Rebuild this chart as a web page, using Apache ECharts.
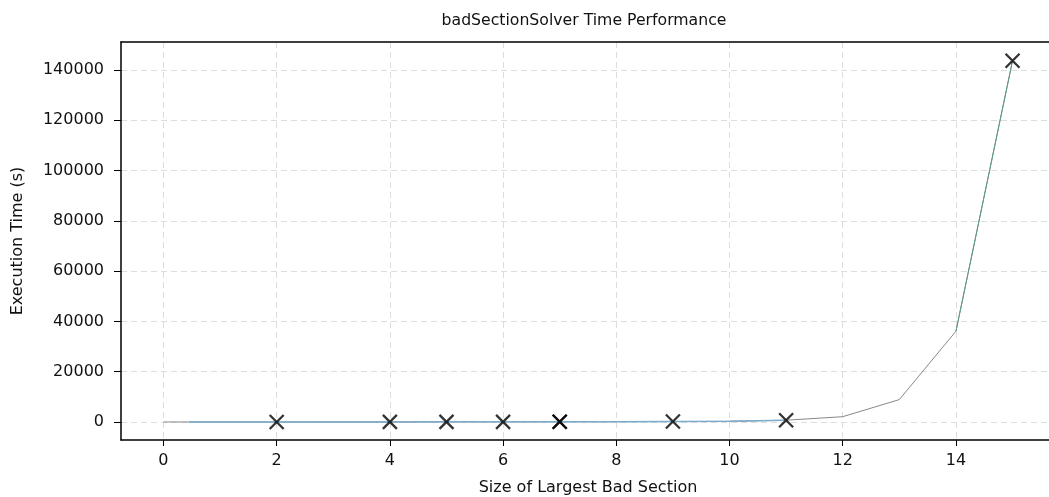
<!DOCTYPE html>
<html><head><meta charset="utf-8">
<script src="https://cdn.jsdelivr.net/npm/echarts@6/dist/echarts.min.js"></script>
<style>html,body{margin:0;padding:0;background:#fff}#c{width:1049px;height:497px}</style>
</head><body><div id="c"></div>
<script>
var sizes = [0,1,2,3,4,5,6,7,8,9,10,11,12,13,14,15];
var times = [1,2,5,10,20,40,60,90,130,180,250,700,2100,8900,36100,143700];
var blueX = [0.45,1,2,3,4,5,6,7,8,9,10,11];
var blueY = [1,2,5,10,20,40,60,90,130,180,250,700];
var tealX = [14,15];
var tealY = [36100,143700];
var markX = [2,4,5,6,7,7,9,11,15];
var markY = [5,20,40,60,90,95,180,700,143700];
var xTicks = [0,2,4,6,8,10,12,14];
var yTicks = [0,20000,40000,60000,80000,100000,120000,140000];

function pairs(a,b){return a.map(function(v,i){return [v,b[i]];});}
var font = "'DejaVu Sans', sans-serif";
var chart = echarts.init(document.getElementById('c'));
var axisLn = {show:true, onZero:false, lineStyle:{color:'#000', width:1.5}};
chart.setOption({
  animation:false,
  title:{text:'badSectionSolver Time Performance', left:579, top:8, textAlign:'center',
    textStyle:{fontFamily:font,fontSize:15.7,fontWeight:'normal',color:'#111'}},
  grid:{left:121, top:42, bottom:57, right:-6, outerBoundsMode:'none', containLabel:false, show:false},
  xAxis:[{type:'value', min:-0.75, max:15.75, interval:2,
    name:'Size of Largest Bad Section', nameLocation:'middle', nameGap:40,
    nameTextStyle:{fontFamily:font,fontSize:16,color:'#111'},
    axisLine:axisLn, axisTick:{show:true, length:6, lineStyle:{color:'#000'}, customValues:xTicks},
    axisLabel:{fontFamily:font,fontSize:16,color:'#111', margin:13, customValues:xTicks},
    splitLine:{show:true, lineStyle:{color:'#ddd', type:[6,4], width:1}, customValues:xTicks}
  },{type:'value', position:'top', min:-0.75, max:15.75, axisLine:axisLn, axisTick:{show:false},
    axisLabel:{show:false}, splitLine:{show:false}}],
  yAxis:{type:'value', min:-7175, max:151150,
    name:'Execution Time (s)', nameLocation:'middle', nameGap:95, nameRotate:90,
    nameTextStyle:{fontFamily:font,fontSize:16,color:'#111'},
    axisLine:axisLn, axisTick:{show:true, length:7, lineStyle:{color:'#000'}, customValues:yTicks},
    axisLabel:{fontFamily:font,fontSize:16,color:'#111', margin:17, customValues:yTicks, formatter:function(v){return String(v);}},
    splitLine:{show:true, lineStyle:{color:'#ddd', type:[6,4], width:1}, customValues:yTicks}
  },
  series:[
    {type:'line', data:pairs(sizes,times), symbol:'none', lineStyle:{color:'#888', width:1}},
    {type:'line', data:pairs(blueX,blueY), symbol:'none', lineStyle:{color:'#7aaacc', width:1.5}},
    {type:'line', data:pairs(tealX,tealY), symbol:'none', lineStyle:{color:'#5a9a8a', width:1}},
    {type:'scatter', data:pairs(markX,markY), symbol:'path://M0,0L10,10M10,0L0,10', symbolSize:14,
      itemStyle:{color:'none', borderColor:'#000', borderWidth:2.3}, z:5}
  ]
});
</script></body></html>
